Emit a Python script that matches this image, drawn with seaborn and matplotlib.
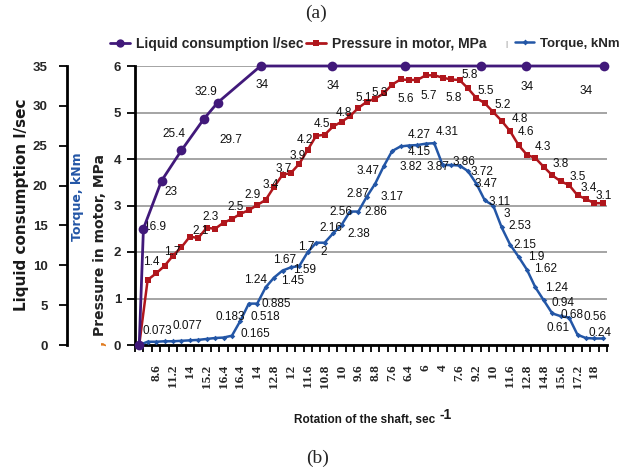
import matplotlib
matplotlib.use("Agg")
import matplotlib.pyplot as plt
import seaborn as sns
import numpy as np
from matplotlib import font_manager
from matplotlib.lines import Line2D

sns.set_style("white")

fonts = {f.name for f in font_manager.fontManager.ttflist}
narrow = "Liberation Sans Narrow" if "Liberation Sans Narrow" in fonts else "Liberation Sans"
plt.rcParams["font.family"] = [narrow, "DejaVu Sans"]

PURPLE = "#41197a"
RED = "#b0161c"
BLUE = "#2356a6"

# shaft rotation readings on the x axis (every 2nd of the 56 points carries a label)
rotation = ["8.6", "11.2", "14", "15.2", "16.4", "16.4", "14", "12.8", "12", "11.6",
            "10.8", "10", "9.6", "8.8", "7.6", "6.4", "6", "4", "7.6", "9.2",
            "10", "11.6", "12.8", "14.8", "15.6", "17.2", "18"]

# pressure in motor, MPa (56 readings)
pressure = [0, 1.4, 1.54, 1.7, 1.92, 2.1, 2.33, 2.3, 2.52, 2.5,
            2.63, 2.71, 2.82, 2.9, 3.01, 3.12, 3.4, 3.66, 3.7, 3.9,
            4.2, 4.5, 4.52, 4.7, 4.8, 4.92, 5.1, 5.23, 5.3, 5.41,
            5.6, 5.71, 5.7, 5.7, 5.8, 5.8, 5.75, 5.71, 5.7, 5.52,
            5.31, 5.2, 5.01, 4.82, 4.6, 4.3, 4.09, 4.02, 3.83, 3.65,
            3.52, 3.44, 3.22, 3.14, 3.05, 3.05]

# torque, kNm (56 readings)
torque = [0, 0.07, 0.07, 0.08, 0.08, 0.09, 0.1, 0.11, 0.13, 0.15,
          0.16, 0.2, 0.52, 0.89, 0.89, 1.24, 1.45, 1.6, 1.67, 1.7,
          2.0, 2.2, 2.2, 2.4, 2.58, 2.87, 2.87, 3.19, 3.47, 3.84,
          4.17, 4.27, 4.29, 4.3, 4.33, 4.34, 3.87, 3.87, 3.86, 3.74,
          3.47, 3.11, 3.0, 2.53, 2.16, 1.9, 1.62, 1.24, 0.96, 0.68,
          0.62, 0.59, 0.22, 0.15, 0.14, 0.14]

# liquid consumption, l/sec, measured at its own points along the axis
liquid_pos = [0, 0.5, 2.65, 5.0, 7.7, 9.3, 14.4, 22.9, 31.5, 40.5, 45.9, 55.2]
liquid = [0, 14.6, 20.6, 24.4, 28.4, 30.4, 35, 35, 35, 35, 35, 35]

# data labels as printed on the chart, with where they sit
liquid_labels = ["16.9", "23", "25.4", "32.9", "29.7", "34", "34", "34", "34"]
liquid_label_at = [(1.8, 2.54), (3.75, 3.30), (4.15, 4.54), (7.9, 5.45), (10.9, 4.41),
                   (14.6, 5.59), (23.0, 5.57), (46.0, 5.54), (53.0, 5.47)]

pressure_labels = ["1.4", "1.7", "2.1", "2.3", "2.5", "2.9", "3.4", "3.7", "3.9", "4.2",
                   "4.5", "4.8", "5.1", "5.3", "5.6", "5.7", "5.8", "5.8", "5.5", "5.2",
                   "4.8", "4.6", "4.3", "3.8", "3.5", "3.4", "3.1"]
pressure_label_at = [(1.39, 1.78), (3.87, 1.99), (7.23, 2.46), (8.5, 2.76), (11.46, 2.97),
                     (13.4, 3.23), (15.6, 3.44), (17.1, 3.78), (18.8, 4.06), (19.6, 4.41),
                     (21.7, 4.75), (24.3, 4.98), (26.6, 5.31), (28.5, 5.41), (31.6, 5.28),
                     (34.3, 5.35), (37.3, 5.31), (39.2, 5.81), (41.1, 5.47), (43.1, 5.16),
                     (45.2, 4.85), (45.9, 4.57), (47.9, 4.25), (50.0, 3.89), (52.0, 3.62),
                     (53.3, 3.37), (55.1, 3.20)]

torque_labels = ["0.073", "0.077", "0.183", "0.165", "0.518", "0.885", "1.24", "1.67", "1.45", "1.59",
                 "1.7", "2", "2.16", "2.38", "2.56", "2.86", "2.87", "3.17", "3.47", "3.82",
                 "4.15", "4.27", "3.87", "4.31", "3.86", "3.72", "3.47", "3.11", "3", "2.53",
                 "2.15", "1.9", "1.62", "1.24", "0.94", "0.68", "0.61", "0.56", "0.24"]
torque_label_at = [(2.17, 0.30), (5.73, 0.41), (10.8, 0.60), (13.8, 0.23), (15.0, 0.60),
                   (16.3, 0.88), (13.75, 1.40), (17.2, 1.83), (18.2, 1.38), (19.6, 1.61),
                   (19.8, 2.10), (21.9, 1.99), (22.7, 2.51), (26.0, 2.38), (23.9, 2.87),
                   (28.1, 2.87), (25.9, 3.25), (30.0, 3.19), (27.1, 3.74), (32.2, 3.83),
                   (33.2, 4.14), (33.2, 4.52), (35.5, 3.83), (36.5, 4.59), (38.5, 3.93),
                   (40.7, 3.73), (41.1, 3.46), (42.7, 3.08), (43.6, 2.82), (45.2, 2.56),
                   (45.8, 2.15), (47.1, 1.90), (48.2, 1.63), (49.5, 1.22), (50.3, 0.91),
                   (51.3, 0.65), (49.7, 0.36), (54.1, 0.60), (54.7, 0.25)]

W, H = 632, 475
fig = plt.figure(figsize=(W / 100, H / 100), dpi=100)
ax = fig.add_axes([135 / W, 130 / H, 472 / W, 279 / H])

idx = np.arange(len(pressure))
sns.lineplot(x=idx, y=pressure, ax=ax, color=RED, linewidth=1.8, marker="s",
             markersize=5, markeredgewidth=0, clip_on=False, zorder=3)
sns.lineplot(x=idx, y=torque, ax=ax, color=BLUE, linewidth=1.8, marker="D",
             markersize=2.8, markeredgewidth=0, clip_on=False, zorder=3)

ax.set_xlim(-0.5, 55.5)
ax.set_ylim(0, 6)
ax.set_yticks(range(7))
ax.set_xticks(np.arange(-0.5, 56, 1))
ax.set_xticks(np.arange(2, 55, 2), minor=True)
ax.set_xticklabels(rotation, minor=True, rotation=90, fontfamily="Liberation Serif",
                   fontweight="bold", fontsize=9.5)
ax.tick_params(axis="x", which="major", bottom=True, direction="out", length=5,
               width=1.3, color="black", labelbottom=False)
ax.tick_params(axis="x", which="minor", bottom=True, length=0, pad=14)
ax.tick_params(axis="y", left=True, direction="out", length=6, width=1.3,
               color="black", pad=4, labelsize=9.5)
for t in ax.get_yticklabels():
    t.set_fontweight("bold")
ax.yaxis.grid(True, color="#8c8c8c", linewidth=1.1)
ax.xaxis.grid(False)
ax.set_axisbelow(True)
for s in ["top", "right"]:
    ax.spines[s].set_visible(False)
for s in ["left", "bottom"]:
    ax.spines[s].set_color("black")
    ax.spines[s].set_linewidth(2)
ax.set_xlabel("")
ax.set_ylabel("")

# liquid consumption on its own left-hand scale
axl = ax.twinx()
sns.lineplot(x=liquid_pos, y=liquid, ax=axl, color=PURPLE, linewidth=2, marker="o",
             markersize=7, markeredgewidth=0, clip_on=False, zorder=4)
axl.set_ylim(0, 35)
axl.set_yticks(range(0, 36, 5))
axl.yaxis.set_ticks_position("left")
axl.spines["left"].set_position(("axes", (67 - 135) / 472))
axl.spines["left"].set_visible(True)
axl.spines["left"].set_color("black")
axl.spines["left"].set_linewidth(2)
for s in ["top", "right", "bottom"]:
    axl.spines[s].set_visible(False)
axl.tick_params(axis="y", left=True, right=False, labelleft=True, labelright=False,
                direction="out", length=6, width=1.3, color="black", pad=8, labelsize=9.5)
for t in axl.get_yticklabels():
    t.set_fontweight("bold")
axl.set_ylabel("")

for labels, places in [(liquid_labels, liquid_label_at),
                       (pressure_labels, pressure_label_at),
                       (torque_labels, torque_label_at)]:
    for txt, (x, y) in zip(labels, places):
        ax.text(x, y, txt, ha="center", va="center", fontsize=8.5, color="#111111", zorder=5)

# axis titles
fig.text(22 / W, 1 - 205 / H, "Liquid consumption l/sec", rotation=90, ha="center",
         va="center", fontsize=11, fontweight="bold", family="DejaVu Sans", color="#1a1a1a")
fig.text(78 / W, 1 - 197 / H, "Torque, kNm", rotation=90, ha="center", va="center",
         fontsize=9, fontweight="bold", family="DejaVu Sans", color=BLUE)
fig.text(100 / W, 1 - 245 / H, "Pressure in motor, MPa", rotation=90, ha="center",
         va="center", fontsize=10, fontweight="bold", family="DejaVu Sans", color="#222222")
fig.text(100 / W, 1 - 343 / H, ",", rotation=90, ha="center", va="center",
         fontsize=10, fontweight="bold", family="DejaVu Sans", color="#e07b20")
fig.text(365 / W, 1 - 420 / H, "Rotation of the shaft, sec", ha="center", va="center",
         fontsize=8.5, fontweight="bold", color="#1a1a1a")
fig.text(446 / W, 1 - 415 / H, "-1", ha="center", va="center", fontsize=10,
         fontweight="bold", color="#1a1a1a")

fig.text(316 / W, 1 - 13 / H, "(a)", ha="center", va="center", fontsize=14,
         family="Liberation Serif")
fig.text(318 / W, 1 - 458 / H, "(b)", ha="center", va="center", fontsize=14,
         family="Liberation Serif")

# legend: one entry per block so each sits where it does on the original
entries = [(Line2D([], [], color=PURPLE, marker="o", lw=2, ms=6, mew=0),
            "Liquid consumption l/sec", 110, 10),
           (Line2D([], [], color=RED, marker="s", lw=2, ms=4.5, mew=0),
            "Pressure in motor, MPa", 306, 10),
           (Line2D([], [], color=BLUE, marker="D", lw=1.8, ms=3, mew=0),
            "Torque, kNm", 515, 9.5)]
for handle, name, left, size in entries:
    fig.legend([handle], [name], loc="center left", bbox_to_anchor=(left / W, 1 - 44 / H),
               frameon=False, handlelength=1.45, handletextpad=0.45, borderpad=0,
               borderaxespad=0, prop=dict(family="Liberation Sans", weight="bold", size=size))
fig.text(506 / W, 1 - 44 / H, "|", ha="center", va="center", fontsize=6, color="#7a7a7a")

fig.savefig("out.png", dpi=100)
